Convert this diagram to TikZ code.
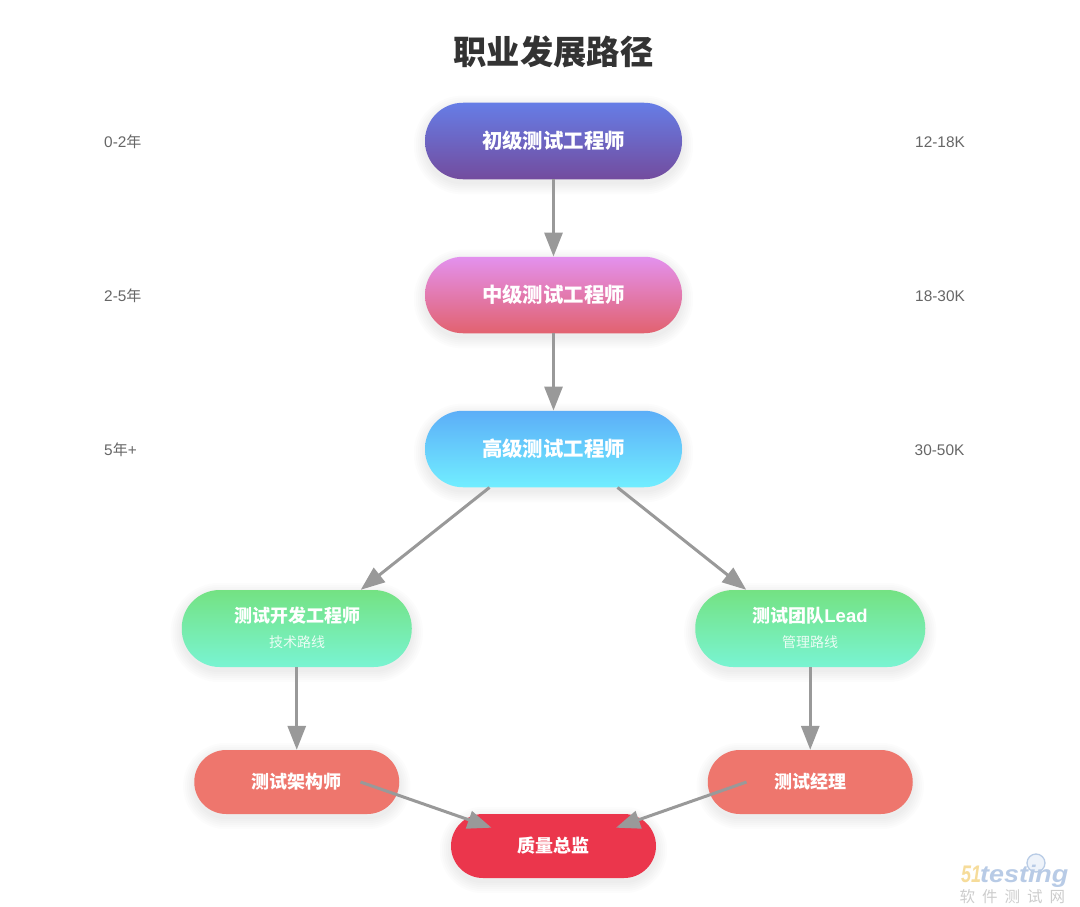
\documentclass[tikz,border=0pt]{standalone}
\usepackage{fontspec}
\setmainfont{Noto Sans CJK SC}
\newfontfamily\sidefont{Liberation Sans}
\newfontfamily\wmfont{Liberation Sans}
\usetikzlibrary{arrows.meta,calc}
\pgfdeclarelayer{bg}
\pgfsetlayers{bg,main}
\definecolor{ink}{HTML}{333333}
\definecolor{sidegray}{HTML}{666666}
\definecolor{edgegray}{HTML}{999999}
\definecolor{aTop}{HTML}{667DE6}\definecolor{aBot}{HTML}{734C9E}
\definecolor{bTop}{HTML}{E391EE}\definecolor{bBot}{HTML}{E2626F}
\definecolor{cTop}{HTML}{5CAEF8}\definecolor{cBot}{HTML}{71EEFF}
\definecolor{dTop}{HTML}{74E283}\definecolor{dBot}{HTML}{79F4D2}
\definecolor{eFill}{HTML}{EE766D}
\definecolor{fFill}{HTML}{EB364C}
\definecolor{wmOrange}{HTML}{F6DC9A}
\definecolor{wmBlue}{HTML}{B8CBE6}
\definecolor{wmGray}{HTML}{CDCDCD}
\definecolor{wmRing}{HTML}{B9CCE6}
\definecolor{wmGlass}{HTML}{EEF3FA}
\newcommand{\softglow}[2]{%
  \foreach \d in {1,3,5,7,9,11}{%
    \pgfmathsetmacro{\rr}{#2+\d}%
    \fill[black,fill opacity=.01,rounded corners=\rr pt]
      ($(#1.north west)+(-\d,4-\d)$) rectangle ($(#1.south east)+(\d,4+\d)$);
  }%
}
\tikzset{
  pill/.style={rectangle,inner sep=0pt,align=center,text=white,font=\bfseries},
  large/.style={pill,minimum width=257pt,minimum height=76.5pt,rounded corners=38pt,font=\fontsize{20.4}{24}\bfseries\selectfont},
  branch/.style={pill,minimum width=230pt,minimum height=77pt,rounded corners=38pt},
  small/.style={pill,minimum width=205pt,minimum height=64pt,rounded corners=32pt,font=\fontsize{18}{22}\bfseries\selectfont},
  sidelabel/.style={anchor=west,inner sep=0pt,text=sidegray,font=\sidefont\fontsize{15.4}{18}\selectfont},
  flow/.style={draw=edgegray,line width=3pt,-{Triangle[length=24pt,width=18pt]}},
  mainline/.style={font=\fontsize{18}{22}\bfseries\selectfont},
  subline/.style={font=\fontsize{14}{17}\selectfont,text opacity=.85}
}
\begin{document}
\begin{tikzpicture}[x=1pt,y=-1pt]
\begin{pgfonlayer}{bg}
\fill[white] (0,0) rectangle (1080,907);
\end{pgfonlayer}
\useasboundingbox (0,0) rectangle (1080,907);

\node[inner sep=0pt,text=ink,font=\fontsize{33.3}{38}\bfseries\selectfont] (title) at (553.5,52) {职业发展路径};

\node[large,top color=aTop,bottom color=aBot] (n1) at (553.5,141) {初级测试工程师};
\node[large,top color=bTop,bottom color=bBot] (n2) at (553.5,295) {中级测试工程师};
\node[large,top color=cTop,bottom color=cBot] (n3) at (553.5,449) {高级测试工程师};

\node[branch,top color=dTop,bottom color=dBot] (n4) at (296.75,628.5) {};
\node[inner sep=0pt,text=white,mainline] (n4a) at (297,616) {测试开发工程师};
\node[inner sep=0pt,text=white,subline] (n4b) at (297,642.5) {技术路线};
\node[branch,top color=dTop,bottom color=dBot] (n5) at (810.25,628.5) {};
\node[inner sep=0pt,text=white,mainline] (n5a) at (810,616) {测试团队{\sidefont\fontsize{18.5}{22}\bfseries\selectfont Lead}};
\node[inner sep=0pt,text=white,subline] (n5b) at (810,642.5) {管理路线};

\node[small,fill=eFill] (n6) at (296.75,782) {测试架构师};
\node[small,fill=eFill] (n7) at (810.25,782) {测试经理};
\node[small,fill=fFill] (n8) at (553.5,846) {质量总监};

\begin{pgfonlayer}{bg}
\softglow{n1}{38}\softglow{n2}{38}\softglow{n3}{38}
\softglow{n4}{38}\softglow{n5}{38}
\softglow{n6}{32}\softglow{n7}{32}\softglow{n8}{32}
\end{pgfonlayer}

\node[sidelabel] (l1) at (104,142) {0-2{\rmfamily\fontsize{15}{18}\selectfont 年}};
\node[sidelabel] (l2) at (104,296) {2-5{\rmfamily\fontsize{15}{18}\selectfont 年}};
\node[sidelabel] (l3) at (104,450) {5{\rmfamily\fontsize{15}{18}\selectfont 年}+};
\node[sidelabel] (r1) at (915,142) {12-18K};
\node[sidelabel] (r2) at (915,296) {18-30K};
\node[sidelabel] (r3) at (914.5,450) {30-50K};

\coordinate (s34) at ($(n3.south)+(-64,0)$);
\coordinate (t34) at ($(n4.north)+(64,0)$);
\coordinate (s35) at ($(n3.south)+(64,0)$);
\coordinate (t35) at ($(n5.north)+(-64,0)$);
\coordinate (s68) at (360.5,782);
\coordinate (t68) at (491.5,827.7);
\coordinate (s78) at (746.5,782);
\coordinate (t78) at (616,827.7);

\draw[flow] (n1.south) -- (n2.north);
\draw[flow] (n2.south) -- (n3.north);
\draw[flow] (s34) -- (t34);
\draw[flow] (s35) -- (t35);
\draw[flow] (n4.south) -- (n6.north);
\draw[flow] (n5.south) -- (n7.north);
\draw[flow] (s68) -- (t68);
\draw[flow] (s78) -- (t78);

% watermark
\draw[draw=wmRing,fill=wmGlass,line width=1.3pt] (1036,863) circle (9pt);
\node[anchor=base west,inner sep=0pt,text=wmOrange,xscale=.75,font=\wmfont\bfseries\itshape\fontsize{24}{26}\selectfont] (wm51) at (961,882) {51};
\node[anchor=base west,inner sep=0pt,text=wmBlue,xscale=1.12,font=\wmfont\bfseries\itshape\fontsize{24}{26}\selectfont] (wmt) at (980,882) {testing};
\node[anchor=base west,inner sep=0pt,text=wmGray,font=\fontsize{15.5}{18}\selectfont] (wmc) at (959.5,902) {软\hspace{7pt}件\hspace{7pt}测\hspace{7pt}试\hspace{7pt}网};
\end{tikzpicture}
\end{document}
